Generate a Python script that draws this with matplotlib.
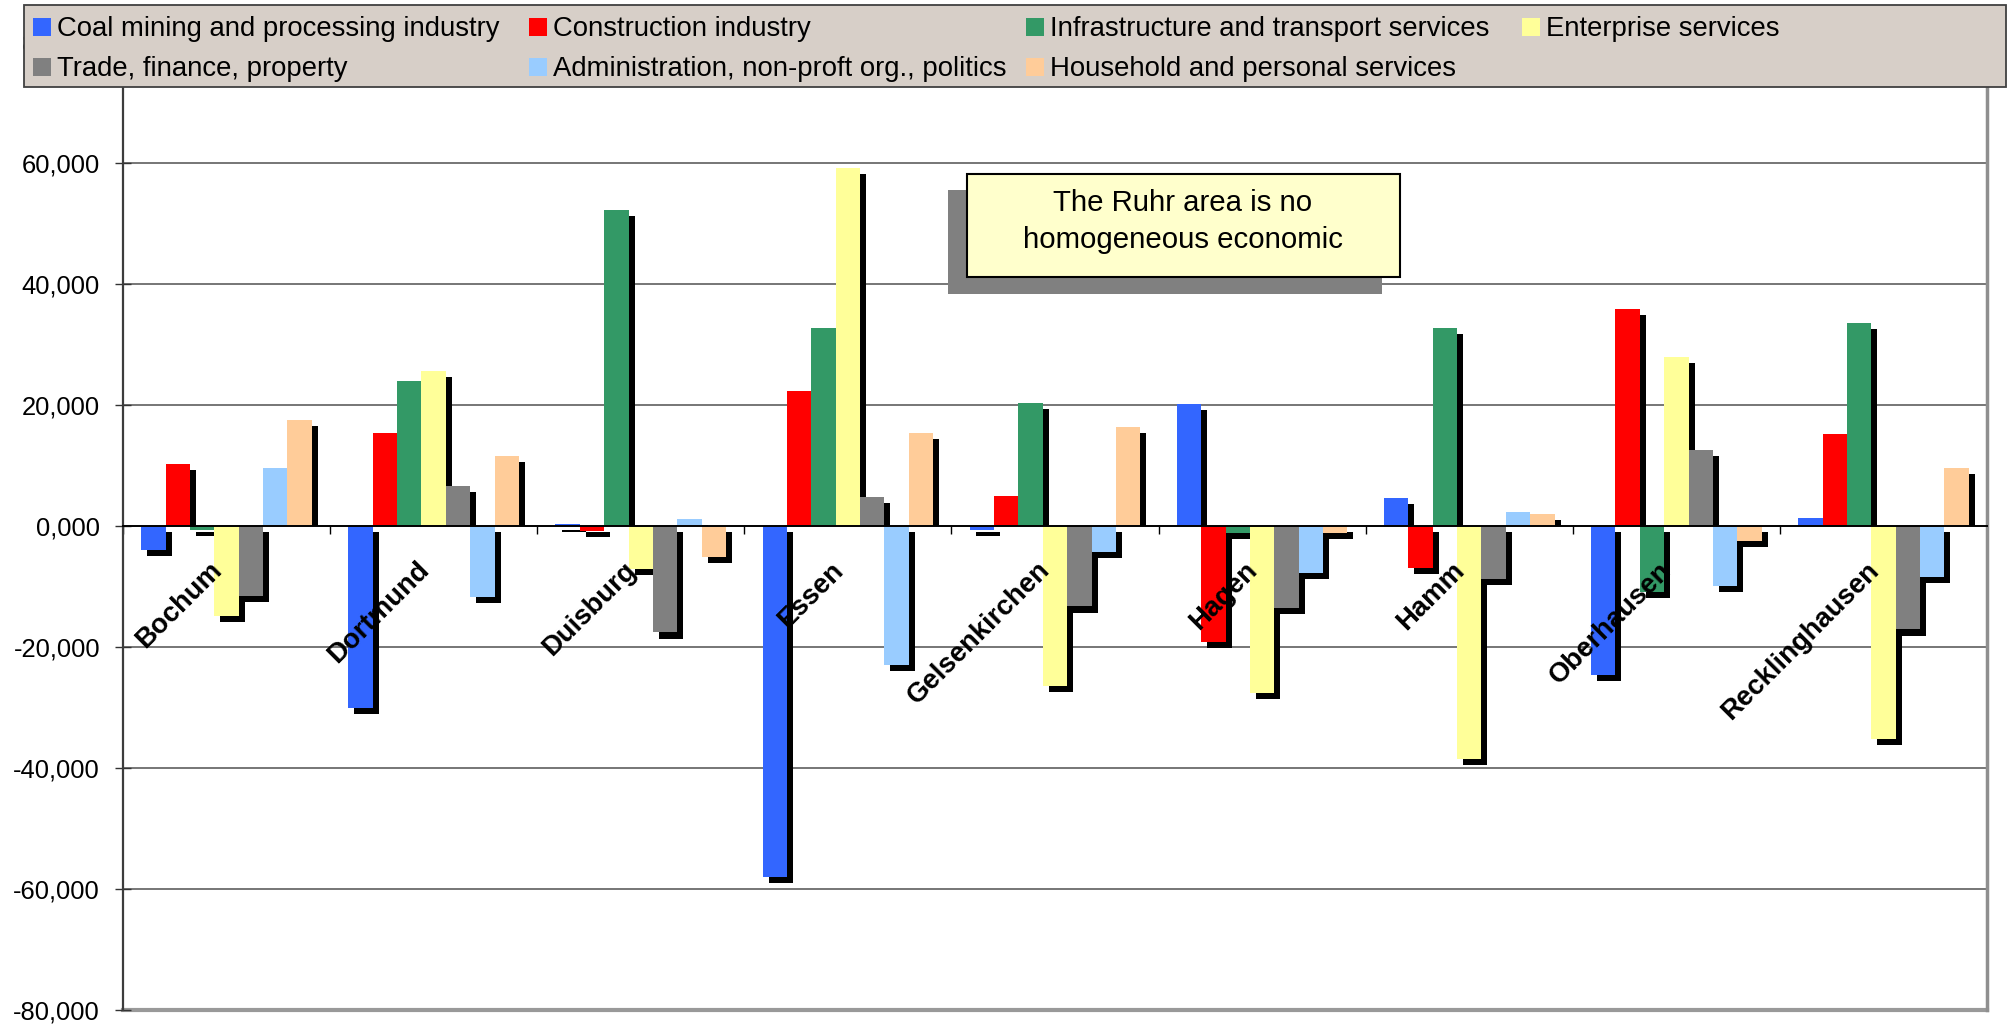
import numpy as np
import matplotlib
matplotlib.use("Agg")
import matplotlib.pyplot as plt
from matplotlib.patches import Rectangle
from matplotlib.transforms import ScaledTranslation
from matplotlib.ticker import FuncFormatter

plt.rcParams['font.family'] = ['Liberation Sans', 'DejaVu Sans']

cities = ["Bochum", "Dortmund", "Duisburg", "Essen", "Gelsenkirchen",
          "Hagen", "Hamm", "Oberhausen", "Recklinghausen"]

sectors = ["Coal mining and processing industry", "Construction industry",
           "Infrastructure and transport services", "Enterprise services",
           "Trade, finance, property", "Administration, non-proft org., politics",
           "Household and personal services"]

# change in employees per sector and city
coal = [-3900, -30000, 300, -58000, -600, 20100, 4600, -24600, 1300]
construction = [10300, 15400, -900, 22300, 5000, -19100, -7000, 35800, 15200]
infrastructure = [-600, 24000, 52200, 32800, 20300, -1100, 32800, -10900, 33500]
enterprise = [-14800, 25700, -7100, 59100, -26500, -27600, -38500, 28000, -35200]
trade = [-11500, 6600, -17600, 4800, -13300, -13600, -8800, 12500, -17100]
administration = [9600, -11800, 1200, -22900, -4300, -7700, 2300, -9900, -8400]
household = [17500, 11600, -5100, 15300, 16300, -1200, 2000, -2400, 9600]

yticks = [-80000, -60000, -40000, -20000, 0, 20000, 40000, 60000, 80000]

colors = ["#3366ff", "#ff0000", "#339966", "#ffff99", "#808080", "#99ccff", "#ffcc99"]
series = [coal, construction, infrastructure, enterprise, trade, administration, household]

W, H = 2009, 1026
fig = plt.figure(figsize=(W / 100, H / 100), dpi=100)
ax = fig.add_axes([123 / W, 1 - 1010 / H, 1864 / W, 968 / H])

x = np.arange(len(cities))
w = 1 / 8.5
drop = 1000     # shadow offset downwards (value units)
shift = 0.029   # shadow offset to the right (category units)

for k, (vals, c) in enumerate(zip(series, colors)):
    vals = np.array(vals, dtype=float)
    pos = x + (k - 3) * w
    top = vals - drop
    bottom = np.where((vals > 0) & (top > 0), 0, -drop)
    ax.bar(pos + shift, top - bottom, w, bottom=bottom, color="black",
           linewidth=0, zorder=1.1)
    ax.bar(pos, vals, w, color=c, linewidth=0, zorder=1.2)

for y in yticks[1:]:
    if y != 0:
        ax.axhline(y, color="#6b6b6b", lw=1.3, zorder=0.5)
ax.axhline(-80000, color="#999999", lw=3, zorder=0.6, clip_on=False)

ax.set_xlim(-0.5, 8.5)
ax.set_ylim(-80000, 80000)
ax.set_yticks(yticks)
ax.yaxis.set_major_formatter(FuncFormatter(lambda v, p: f"{int(v / 1000)},000"))
ax.tick_params(axis="y", direction="inout", length=11.5, width=1, color="#333333",
               labelsize=18.4, pad=10.8)

ax.set_xticks(np.arange(-0.5, 9, 1))
ax.set_xticklabels([])
ax.tick_params(axis="x", direction="out", length=5.8, width=1, color="black")

ax.spines["bottom"].set_position(("data", 0))
ax.spines["bottom"].set_color("black")
ax.spines["bottom"].set_linewidth(1.4)
ax.spines["left"].set_color("#3c3c3c")
ax.spines["left"].set_linewidth(1.6)
ax.spines["right"].set_color("#8f8f8f")
ax.spines["right"].set_linewidth(2.5)
ax.spines["top"].set_color("#8f8f8f")

# category names sit at the zero line, turned 45 degrees
lab_off = ScaledTranslation(-0.18, -0.31, fig.dpi_scale_trans)
for i, name in enumerate(cities):
    ax.text(x[i], 0, name, transform=ax.transData + lab_off, rotation=45,
            rotation_mode="anchor", ha="right", va="top", fontsize=19.8,
            fontweight="bold", zorder=3)

# note box with its grey drop shadow
fig.add_artist(Rectangle((948 / W, 1 - 294 / H), 434 / W, 104 / H,
                         transform=fig.transFigure, facecolor="#808080",
                         edgecolor="none", zorder=5))
fig.add_artist(Rectangle((967 / W, 1 - 277 / H), 433 / W, 103 / H,
                         transform=fig.transFigure, facecolor="#ffffcc",
                         edgecolor="black", lw=1.5, zorder=6))
fig.text(1183 / W, 1 - 221.5 / H, "The Ruhr area is no\nhomogeneous economic",
         ha="center", va="center", fontsize=21.2, linespacing=1.42, zorder=7)

# legend across the top, four equal columns
fig.add_artist(Rectangle((24 / W, 1 - 87 / H), 1982 / W, 82 / H,
                         transform=fig.transFigure, facecolor="#d7cfc8",
                         edgecolor="#404040", lw=1.3, zorder=5))
for k, (name, c) in enumerate(zip(sectors, colors)):
    row, col = divmod(k, 4)
    mx = 33 + col * 496.3
    base = 36 + row * 40
    fig.add_artist(Rectangle((mx / W, 1 - base / H), 18 / W, 18 / H,
                             transform=fig.transFigure, facecolor=c,
                             edgecolor="none", zorder=6))
    fig.text((mx + 24) / W, 1 - base / H, name, ha="left", va="baseline",
             fontsize=19.8, zorder=7)

fig.savefig("out.png", dpi=100)
